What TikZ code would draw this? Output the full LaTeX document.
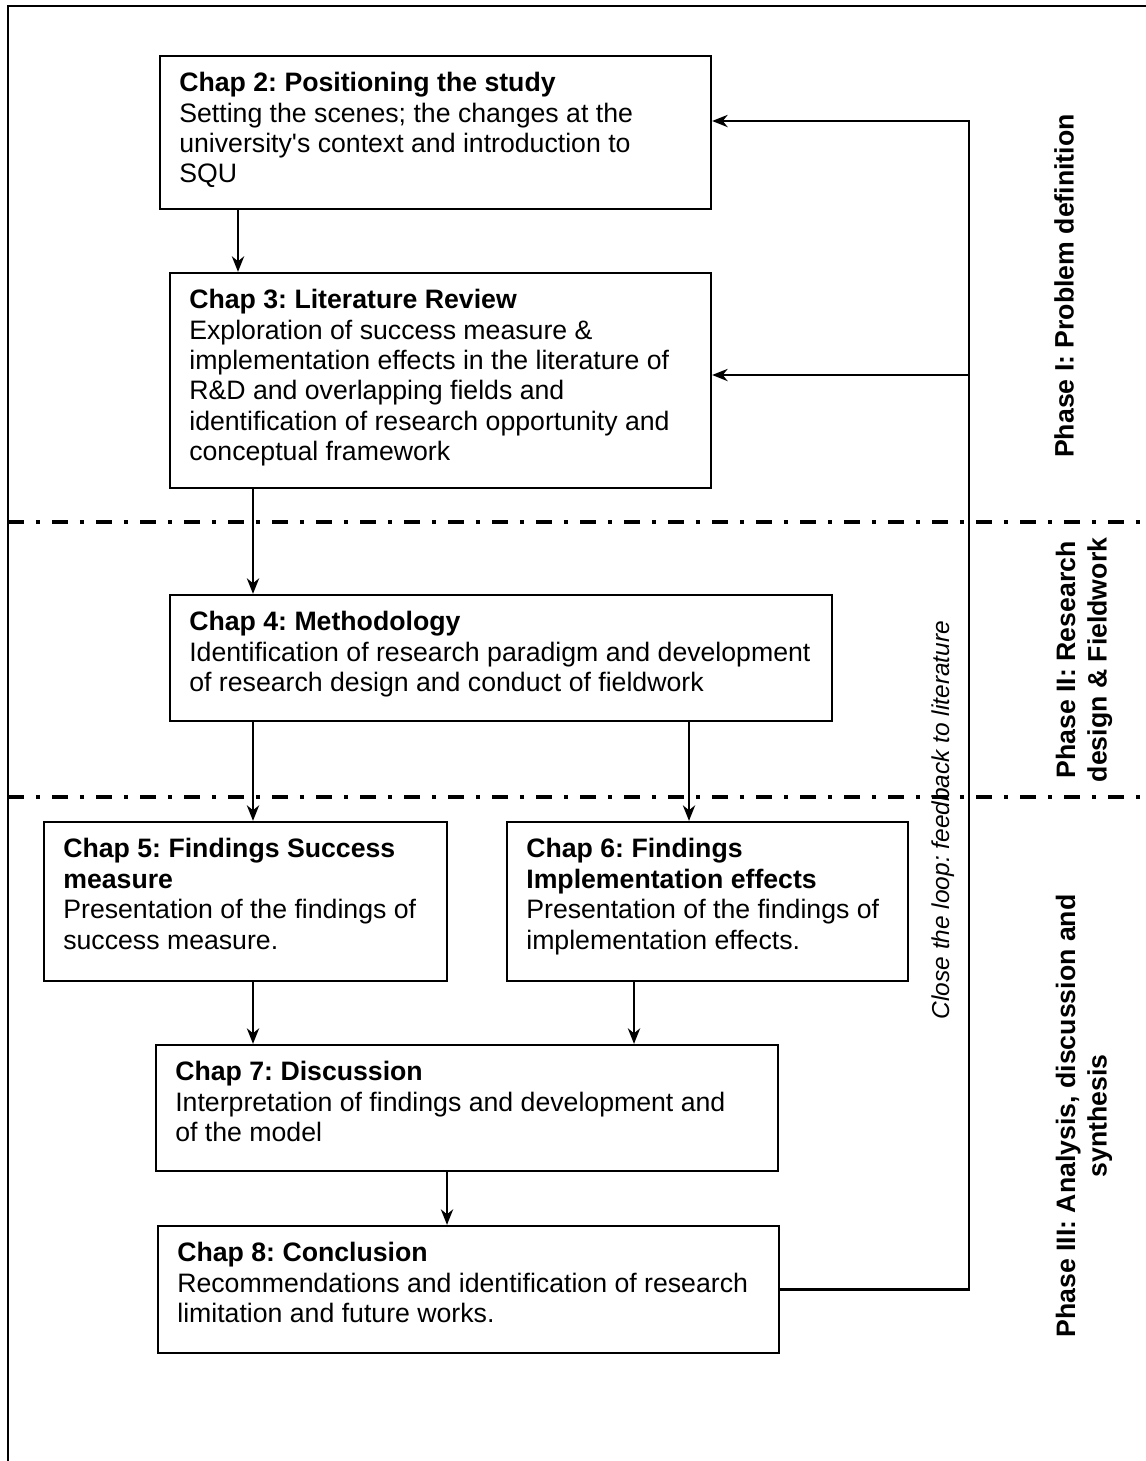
\documentclass[tikz,border=0pt]{standalone}
\usepackage{fontspec}
\newfontfamily\arial{Liberation Sans}
\usetikzlibrary{fit,arrows.meta}
\frenchspacing
\begin{document}
\begin{tikzpicture}[x=0.45pt,y=-0.45pt,
  box/.style={draw, line width=1pt, inner sep=0pt},
  txt/.style={anchor=north west, inner sep=0pt, align=left,
    font=\arial\fontsize{12pt}{13.7pt}\selectfont},
  arr/.style={line width=1pt, -{Stealth[length=7pt,width=5.5pt,inset=2.2pt]}},
  link/.style={line width=1pt},
  phase/.style={rotate=90, align=center, inner sep=0pt,
    font=\arial\bfseries\fontsize{12pt}{14.2pt}\selectfont},
  sep/.style={line width=2pt, dash pattern=on 7pt off 5.5pt on 1.8pt off 5.5pt},
]
\useasboundingbox (0,0) rectangle (1146,1461);

% outer frame (top and left edges)
\draw[link] (8,1461) -- (8,6) -- (1146,6);

% phase separators
\draw[sep] (8,522) -- (1146,522);
\draw[sep] (8,797) -- (1146,797);

% chapter boxes
\node[box, fit={(160,56)(711,209)}] (c2) {};
\node[box, fit={(170,273)(711,488)}] (c3) {};
\node[box, fit={(170,595)(832,721)}] (c4) {};
\node[box, fit={(44,822)(447,981)}] (c5) {};
\node[box, fit={(507,822)(908,981)}] (c6) {};
\node[box, fit={(156,1045)(778,1171)}] (c7) {};
\node[box, fit={(158,1226)(779,1353)}] (c8) {};

% chapter texts
\node[txt] (t2) at ([shift={(20,17)}]c2.north west) {\textbf{Chap 2: Positioning the study}\\
  Setting the scenes; the changes at the\\
  university's context and introduction to\\
  SQU};
\node[txt] (t3) at ([shift={(20,17)}]c3.north west) {\textbf{Chap 3: Literature Review}\\
  Exploration of success measure \&\\
  implementation effects in the literature of\\
  R\&D and overlapping fields and\\
  identification of research opportunity and\\
  conceptual framework};
\node[txt] (t4) at ([shift={(20,17)}]c4.north west) {\textbf{Chap 4: Methodology}\\
  Identification of research paradigm and development\\
  of research design and conduct of fieldwork};
\node[txt] (t5) at ([shift={(20,17)}]c5.north west) {\textbf{Chap 5: Findings Success}\\
  \textbf{measure}\\
  Presentation of the findings of\\
  success measure.};
\node[txt] (t6) at ([shift={(20,17)}]c6.north west) {\textbf{Chap 6: Findings}\\
  \textbf{Implementation effects}\\
  Presentation of the findings of\\
  implementation effects.};
\node[txt] (t7) at ([shift={(20,17)}]c7.north west) {\textbf{Chap 7: Discussion}\\
  Interpretation of findings and development and\\
  of the model};
\node[txt] (t8) at ([shift={(20,17)}]c8.north west) {\textbf{Chap 8: Conclusion}\\
  Recommendations and identification of research\\
  limitation and future works.};

% forward flow
\draw[arr] (238,0 |- c2.south) -- (238,0 |- c3.north);
\draw[arr] (253,0 |- c3.south) -- (253,0 |- c4.north);
\draw[arr] (253,0 |- c4.south) -- (253,0 |- c5.north);
\draw[arr] (689,0 |- c4.south) -- (689,0 |- c6.north);
\draw[arr] (253,0 |- c5.south) -- (253,0 |- c7.north);
\draw[arr] (634,0 |- c6.south) -- (634,0 |- c7.north);
\draw[arr] (447,0 |- c7.south) -- (447,0 |- c8.north);

% feedback loop back to the literature
\coordinate (fb2) at (969,121);
\coordinate (fb3) at (969,375);
\draw[arr] (c8.east) -| (fb2) -- (fb2 -| c2.east);
\draw[arr] (fb3) -- (fb3 -| c3.east);
\node[rotate=90, inner sep=0pt, font=\arial\itshape\fontsize{11pt}{13pt}\selectfont]
  (fbl) at (943,820) {Close the loop: feedback to literature};

% phase labels
\node[phase] (p1) at (1064,286) {Phase I: Problem definition};
\node[phase] (p2) at (1084,660) {Phase II: Research\\design \& Fieldwork};
\node[phase] (p3) at (1084,1116) {Phase III: Analysis, discussion and\\synthesis};
\end{tikzpicture}
\end{document}
